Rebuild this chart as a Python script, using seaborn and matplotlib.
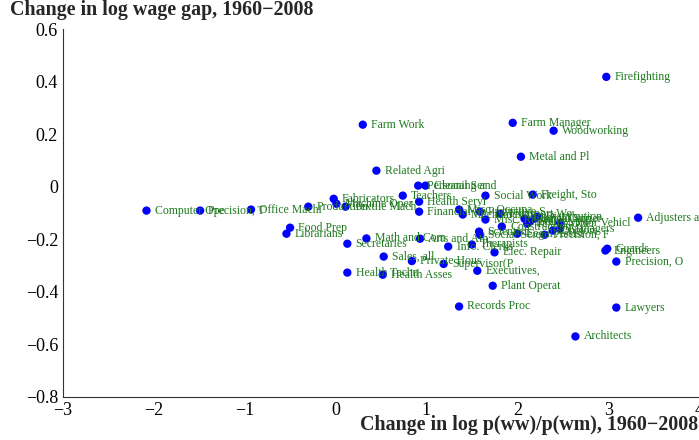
import numpy as np
import pandas as pd
import matplotlib
matplotlib.use("Agg")
import matplotlib.pyplot as plt
import seaborn as sns

# occupations: change in log p(ww)/p(wm) vs change in log wage gap, 1960-2008
occupations = [
    "Firefighting", "Farm Work", "Farm Manager", "Woodworking", "Metal and Pl",
    "Related Agri", "Personal Ser", "Cleaning and", "Teachers", "Health Servi",
    "Financial Sp", "Social Work", "Freight, Sto", "Adjusters a", "Computer Ope",
    "Precision, T", "Office Machi", "Production", "Fabricators", "Machine Oper",
    "Textile Mach", "Food Prep", "Librarians", "Secretaries", "Math and Com",
    "Arts and Ath", "Info. Clerks", "Therapists", "Elec. Repair", "Sales, all",
    "Private Hous", "Supervisor(P", "Executives,", "Health Techn", "Health Asses",
    "Plant Operat", "Records Proc", "Architects", "Lawyers", "Precision, O",
    "Guards", "Engineers",
    "Misc. Occupa", "Mechanics an", "Protective S", "Misc. Repair", "Transport Wo",
    "Construction", "Scientists", "Social Scien", "Legal Assist", "Textile Oper",
    "Distribution", "Clerical Sup", "Mail Carrier", "Police", "Motor Vehicl",
    "Doctors", "Precision, F", "Managers",
]
d_ratio = [
    2.98, 0.30, 1.95, 2.40, 2.04,
    0.45, 0.91, 0.99, 0.74, 0.92,
    0.92, 1.65, 2.17, 3.33, -2.08,
    -1.49, -0.93, -0.30, -0.02, 0.01,
    0.11, -0.50, -0.54, 0.13, 0.34,
    0.93, 1.24, 1.50, 1.75, 0.53,
    0.84, 1.19, 1.56, 0.13, 0.52,
    1.73, 1.36, 2.64, 3.09, 3.09,
    2.99, 2.97,
    1.36, 1.40, 1.59, 1.65, 1.81,
    1.83, 1.58, 1.59, 2.00, 2.11,
    2.22, 2.08, 2.19, 2.14, 2.47,
    2.39, 2.30, 2.47,
]
d_gap = [
    0.418, 0.236, 0.243, 0.213, 0.114,
    0.061, 0.004, 0.004, -0.034, -0.057,
    -0.095, -0.034, -0.030, -0.118, -0.091,
    -0.091, -0.087, -0.076, -0.046, -0.065,
    -0.076, -0.156, -0.179, -0.217, -0.197,
    -0.198, -0.228, -0.220, -0.250, -0.266,
    -0.283, -0.294, -0.320, -0.327, -0.335,
    -0.377, -0.456, -0.570, -0.460, -0.285,
    -0.236, -0.243,
    -0.087, -0.106, -0.095, -0.125, -0.103,
    -0.152, -0.171, -0.183, -0.179, -0.141,
    -0.114, -0.122, -0.122, -0.133, -0.137,
    -0.167, -0.183, -0.160,
]
x_ticks = [-3, -2, -1, 0, 1, 2, 3, 4]
y_ticks = [-0.8, -0.6, -0.4, -0.2, 0, 0.2, 0.4, 0.6]

df = pd.DataFrame({"occ": occupations, "dx": d_ratio, "dy": d_gap})

sns.set_style("white")
plt.rcParams["font.family"] = ["Liberation Serif", "DejaVu Serif"]

fig = plt.figure(figsize=(6.99, 4.4), dpi=100)
ax = fig.add_axes([0.090, 0.098, 0.910, 0.836])

sns.scatterplot(data=df, x="dx", y="dy", ax=ax, color="blue", s=36,
                edgecolor="none", zorder=3)
for _, r in df.iterrows():
    ax.annotate(r["occ"], (r["dx"], r["dy"]), xytext=(6, 0),
                textcoords="offset points", va="center", ha="left",
                fontsize=8.5, color="#1f7a1f", annotation_clip=False)

ax.set_xlim(-3, 4)
ax.set_ylim(-0.8, 0.6)
ax.set_xticks(x_ticks)
ax.set_yticks(y_ticks)
ax.set_yticklabels([f"{v:.1f}".replace("-", "\u2212") if v != 0 else "0" for v in y_ticks])
ax.tick_params(direction="in", length=4, labelsize=13, colors="black")
sns.despine(ax=ax)
for s in ["left", "bottom"]:
    ax.spines[s].set_color("#333333")
ax.set_xlabel("")
ax.set_ylabel("")

fig.text(0.014, 0.977, "Change in log wage gap, 1960\u22122008", fontsize=14.4,
         fontweight="bold", ha="left", va="center")
fig.text(0.999, 0.034, "Change in log p(ww)/p(wm), 1960\u22122008", fontsize=14.4,
         fontweight="bold", ha="right", va="center")

fig.savefig("out.png", dpi=100)
